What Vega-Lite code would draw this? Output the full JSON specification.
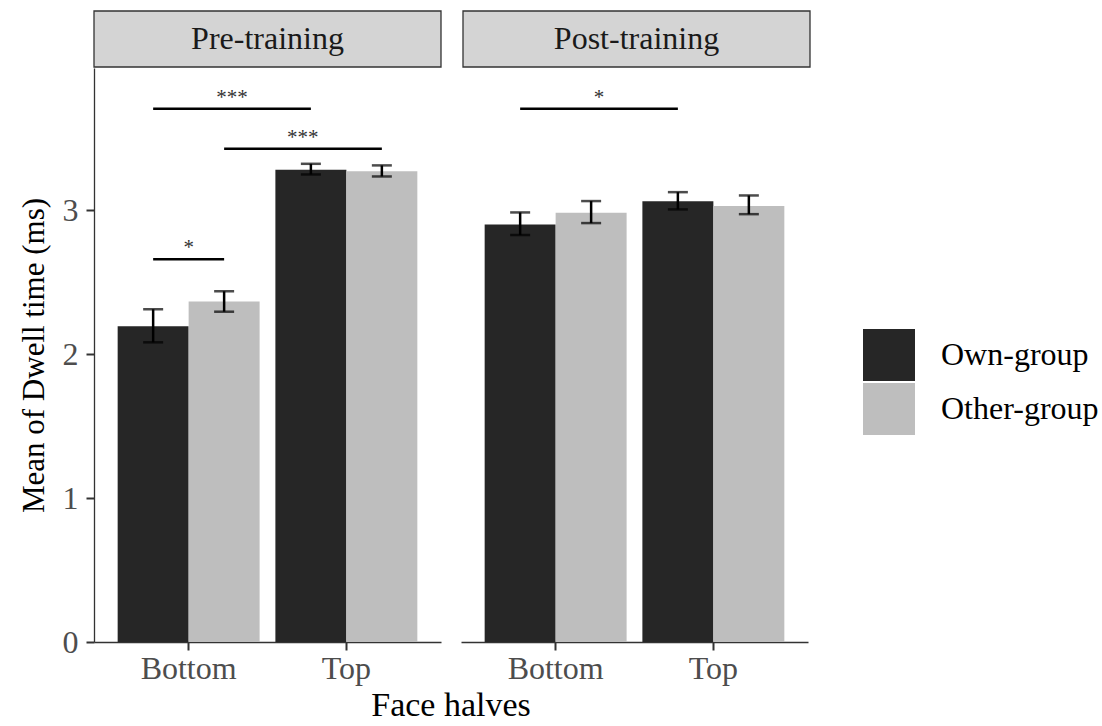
{
  "$schema": "https://vega.github.io/schema/vega-lite/v6.json",
  "padding": {"left": 17, "top": 10, "right": 5, "bottom": 2},
  "datasets": {
    "strips": [
      {"panel": "Pre-training"},
      {"panel": "Post-training"}
    ],
    "main": [
      {"kind": "bar", "panel": "Pre-training", "half": "Bottom", "group": "Own-group", "mean": 2.195, "lo": 2.083, "hi": 2.313},
      {"kind": "bar", "panel": "Pre-training", "half": "Bottom", "group": "Other-group", "mean": 2.367, "lo": 2.296, "hi": 2.438},
      {"kind": "bar", "panel": "Pre-training", "half": "Top", "group": "Own-group", "mean": 3.282, "lo": 3.25, "hi": 3.324},
      {"kind": "bar", "panel": "Pre-training", "half": "Top", "group": "Other-group", "mean": 3.273, "lo": 3.236, "hi": 3.313},
      {"kind": "bar", "panel": "Post-training", "half": "Bottom", "group": "Own-group", "mean": 2.903, "lo": 2.829, "hi": 2.986},
      {"kind": "bar", "panel": "Post-training", "half": "Bottom", "group": "Other-group", "mean": 2.984, "lo": 2.912, "hi": 3.065},
      {"kind": "bar", "panel": "Post-training", "half": "Top", "group": "Own-group", "mean": 3.063, "lo": 3.007, "hi": 3.127},
      {"kind": "bar", "panel": "Post-training", "half": "Top", "group": "Other-group", "mean": 3.03, "lo": 2.974, "hi": 3.104},
      {"kind": "sig", "panel": "Pre-training", "id": "a", "half": "Bottom", "group": "Own-group", "y": 3.706},
      {"kind": "sig", "panel": "Pre-training", "id": "a", "half": "Top", "group": "Own-group", "y": 3.706},
      {"kind": "sig", "panel": "Pre-training", "id": "b", "half": "Bottom", "group": "Other-group", "y": 3.428},
      {"kind": "sig", "panel": "Pre-training", "id": "b", "half": "Top", "group": "Other-group", "y": 3.428},
      {"kind": "sig", "panel": "Pre-training", "id": "c", "half": "Bottom", "group": "Own-group", "y": 2.66},
      {"kind": "sig", "panel": "Pre-training", "id": "c", "half": "Bottom", "group": "Other-group", "y": 2.66},
      {"kind": "sig", "panel": "Post-training", "id": "d", "half": "Bottom", "group": "Own-group", "y": 3.706},
      {"kind": "sig", "panel": "Post-training", "id": "d", "half": "Top", "group": "Own-group", "y": 3.706},
      {"kind": "lab", "span": "across", "panel": "Pre-training", "half": "Top", "group": "Own-group", "y": 3.706, "star": "***"},
      {"kind": "lab", "span": "across", "panel": "Pre-training", "half": "Top", "group": "Other-group", "y": 3.428, "star": "***"},
      {"kind": "lab", "span": "within", "panel": "Pre-training", "half": "Bottom", "group": "Own-group", "y": 2.66, "star": "*"},
      {"kind": "lab", "span": "across", "panel": "Post-training", "half": "Top", "group": "Own-group", "y": 3.706, "star": "*"}
    ]
  },
  "config": {
    "font": "Liberation Serif",
    "view": {"stroke": null},
    "axis": {
      "grid": false,
      "domainColor": "#333333",
      "domainWidth": 1.3,
      "tickColor": "#333333",
      "tickWidth": 2,
      "tickSize": 8,
      "labelFont": "Liberation Serif",
      "labelFontSize": 32,
      "labelColor": "#4d4d4d",
      "titleFont": "Liberation Serif",
      "titleFontWeight": "normal",
      "titleColor": "#000000"
    },
    "legend": {
      "symbolType": "square",
      "symbolSize": 2704,
      "symbolStrokeWidth": 0,
      "labelFont": "Liberation Serif",
      "labelFontSize": 32,
      "labelColor": "#000000",
      "labelOffset": 26,
      "rowPadding": 2
    }
  },
  "spacing": 0,
  "vconcat": [
    {
      "data": {"name": "strips"},
      "facet": {
        "column": {"field": "panel", "type": "nominal", "sort": ["Pre-training", "Post-training"], "title": null, "header": {"labels": false}}
      },
      "spacing": {"column": 20},
      "spec": {
        "width": 347,
        "height": 56,
        "layer": [
          {"mark": {"type": "rect", "fill": "#d4d4d4", "stroke": "#333333", "strokeWidth": 1.3}, "encoding": {}},
          {
            "mark": {"type": "text", "fontSize": 32, "color": "#1a1a1a"},
            "encoding": {
              "text": {"field": "panel"},
              "y": {"datum": 0.5, "type": "quantitative", "scale": {"domain": [0, 1]}, "axis": {"values": [0.5], "labelExpr": "'0'", "labelColor": "transparent", "tickColor": "transparent", "domain": false, "labelPadding": 8, "title": "M", "titleColor": "transparent", "titleFontSize": 31, "titlePadding": 12}}
            }
          }
        ]
      }
    },
    {
      "data": {"name": "main"},
      "facet": {
        "column": {
          "field": "panel", "type": "nominal", "sort": ["Pre-training", "Post-training"],
          "title": "Face halves",
          "header": {"labels": false, "titleOrient": "bottom", "titleFont": "Liberation Serif", "titleFontSize": 34, "titleFontWeight": "normal", "titleColor": "#000000", "titlePadding": -5}
        }
      },
      "spacing": {"column": 20},
      "spec": {
        "width": 347,
        "height": 574,
        "layer": [
          {
            "transform": [{"filter": "datum.kind === 'bar'"}],
            "mark": {"type": "bar"},
            "encoding": {
              "x": {"field": "half", "type": "nominal", "sort": ["Bottom", "Top"], "scale": {"paddingInner": 0.1, "paddingOuter": 0.15}, "axis": {"title": null, "labelAngle": 0, "labelPadding": 3}},
              "xOffset": {"field": "group", "type": "nominal", "sort": ["Own-group", "Other-group"], "scale": {"paddingInner": 0, "paddingOuter": 0}},
              "y": {"field": "mean", "type": "quantitative", "title": "Mean of Dwell time (ms)", "scale": {"domain": [0, 3.99], "nice": false}, "axis": {"values": [0, 1, 2, 3], "format": "d", "labelPadding": 8, "titleFontSize": 31, "titlePadding": 12}},
              "color": {"field": "group", "type": "nominal", "sort": ["Own-group", "Other-group"], "scale": {"domain": ["Own-group", "Other-group"], "range": ["#262626", "#bebebe"]}, "legend": {"title": null, "orient": "none", "legendX": 769, "legendY": 318}}
            }
          },
          {
            "transform": [{"filter": "datum.kind === 'bar'"}],
            "mark": {"type": "rule", "color": "#000000", "strokeWidth": 2.5},
            "encoding": {
              "x": {"field": "half", "type": "nominal", "sort": ["Bottom", "Top"]},
              "xOffset": {"field": "group", "type": "nominal", "sort": ["Own-group", "Other-group"]},
              "y": {"field": "lo", "type": "quantitative", "title": "Mean of Dwell time (ms)"},
              "y2": {"field": "hi"}
            }
          },
          {
            "transform": [{"filter": "datum.kind === 'bar'"}],
            "mark": {"type": "tick", "color": "#000000", "size": 20, "thickness": 2.5},
            "encoding": {
              "x": {"field": "half", "type": "nominal", "sort": ["Bottom", "Top"]},
              "xOffset": {"field": "group", "type": "nominal", "sort": ["Own-group", "Other-group"]},
              "y": {"field": "lo", "type": "quantitative", "title": "Mean of Dwell time (ms)"}
            }
          },
          {
            "transform": [{"filter": "datum.kind === 'bar'"}],
            "mark": {"type": "tick", "color": "#000000", "size": 20, "thickness": 2.5},
            "encoding": {
              "x": {"field": "half", "type": "nominal", "sort": ["Bottom", "Top"]},
              "xOffset": {"field": "group", "type": "nominal", "sort": ["Own-group", "Other-group"]},
              "y": {"field": "hi", "type": "quantitative", "title": "Mean of Dwell time (ms)"}
            }
          },
          {
            "transform": [{"filter": "datum.kind === 'sig'"}],
            "mark": {"type": "line", "color": "#000000", "strokeWidth": 2.5},
            "encoding": {
              "x": {"field": "half", "type": "nominal", "sort": ["Bottom", "Top"]},
              "xOffset": {"field": "group", "type": "nominal", "sort": ["Own-group", "Other-group"]},
              "y": {"field": "y", "type": "quantitative", "title": "Mean of Dwell time (ms)"},
              "detail": {"field": "id"}
            }
          },
          {
            "transform": [{"filter": "datum.kind === 'lab' && datum.span === 'within'"}],
            "mark": {"type": "text", "fontSize": 21, "color": "#333333", "baseline": "bottom", "dy": -1},
            "encoding": {
              "x": {"field": "half", "type": "nominal", "sort": ["Bottom", "Top"]},
              "y": {"field": "y", "type": "quantitative", "title": "Mean of Dwell time (ms)"},
              "text": {"field": "star"}
            }
          },
          {
            "transform": [{"filter": "datum.kind === 'lab' && datum.span === 'across'"}],
            "mark": {"type": "text", "fontSize": 21, "color": "#333333", "baseline": "bottom", "dy": -1, "dx": -79},
            "encoding": {
              "x": {"field": "half", "type": "nominal", "sort": ["Bottom", "Top"]},
              "xOffset": {"field": "group", "type": "nominal", "sort": ["Own-group", "Other-group"]},
              "y": {"field": "y", "type": "quantitative", "title": "Mean of Dwell time (ms)"},
              "text": {"field": "star"}
            }
          }
        ]
      }
    }
  ]
}
